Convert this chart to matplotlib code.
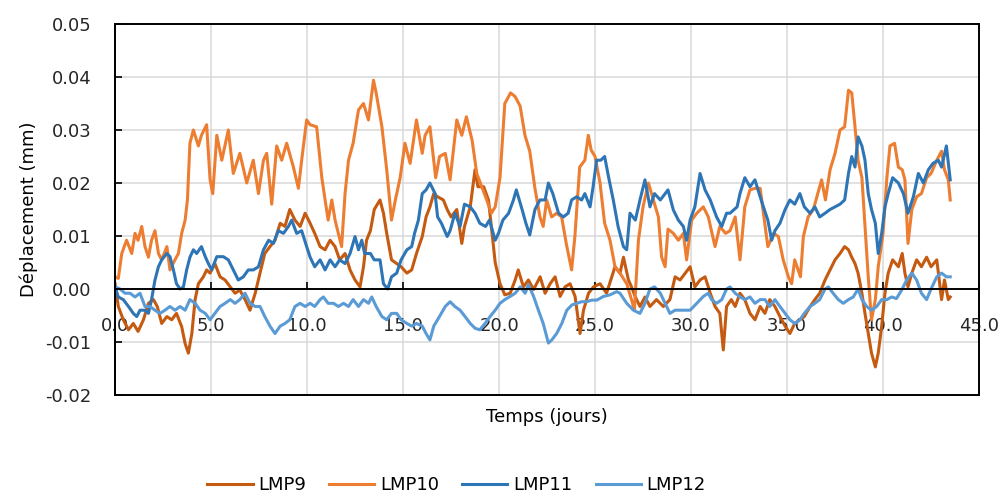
import matplotlib
matplotlib.use("Agg")
import matplotlib.pyplot as plt
from matplotlib.patches import Rectangle

# =====================================================
# Data: displacement (mm) vs time (days)
# =====================================================

t9 = [0.0, 0.17, 0.43, 0.7, 0.95, 1.2, 1.48, 1.74, 2.0, 2.2, 2.43, 2.7, 2.95, 3.2, 3.47, 3.65, 3.82, 4.0,
      4.17, 4.34, 4.6, 4.77, 4.95, 5.2, 5.47, 5.73, 6.0, 6.25, 6.5, 6.77, 7.03, 7.3, 7.55, 7.8, 8.07, 8.33,
      8.6, 8.85, 9.1, 9.37, 9.64, 9.9, 10.16, 10.4, 10.68, 10.94, 11.2, 11.46, 11.7, 11.98, 12.24, 12.5,
      12.76, 12.94, 13.1, 13.3, 13.5, 13.8, 13.98, 14.15, 14.4, 14.67, 14.9, 15.2, 15.45, 15.7, 16.0, 16.2,
      16.4, 16.6, 16.8, 17.1, 17.3, 17.5, 17.8, 18.06, 18.2, 18.5, 18.75, 18.9, 19.2, 19.45, 19.6, 19.8,
      20.05, 20.3, 20.58, 20.84, 21.0, 21.27, 21.53, 21.8, 22.14, 22.4, 22.66, 22.92, 23.18, 23.44, 23.7,
      23.96, 24.22, 24.4, 24.66, 24.92, 25.26, 25.6, 26.04, 26.3, 26.48, 26.74, 26.9, 27.1, 27.34, 27.6,
      27.86, 28.2, 28.56, 28.9, 29.17, 29.43, 29.7, 29.95, 30.2, 30.47, 30.73, 30.9, 31.0, 31.25, 31.5,
      31.68, 31.85, 32.1, 32.3, 32.55, 32.8, 33.07, 33.33, 33.6, 33.85, 34.1, 34.37, 34.63, 34.9, 35.15,
      35.4, 35.67, 35.9, 36.2, 36.45, 36.7, 36.98, 37.24, 37.5, 37.76, 38.0, 38.2, 38.37, 38.54, 38.7,
      38.9, 39.06, 39.23, 39.4, 39.6, 39.75, 39.93, 40.1, 40.27, 40.5, 40.8, 41.0, 41.14, 41.3, 41.5,
      41.75, 42.0, 42.27, 42.5, 42.8, 43.05, 43.2, 43.4, 43.5]
lmp9 = [0.0010, -0.0033, -0.0058, -0.0077, -0.0065, -0.0080, -0.0058, -0.0027, -0.0020, -0.0033, -0.0065,
        -0.0052, -0.0058, -0.0046, -0.0071, -0.0103, -0.0121, -0.0084, -0.0020, 0.0010, 0.0023, 0.0036,
        0.0030, 0.0048, 0.0023, 0.0017, 0.0004, -0.0008, -0.0002, -0.0020, -0.0040, -0.0008, 0.0030, 0.0067,
        0.0080, 0.0092, 0.0124, 0.0118, 0.0150, 0.0130, 0.0118, 0.0143, 0.0124, 0.0105, 0.0080, 0.0074,
        0.0092, 0.0080, 0.0055, 0.0067, 0.0036, 0.0017, 0.0004, 0.0042, 0.0092, 0.0110, 0.0150, 0.0168,
        0.0143, 0.0105, 0.0055, 0.0048, 0.0042, 0.0030, 0.0036, 0.0067, 0.0099, 0.0136, 0.0155, 0.0180,
        0.0174, 0.0168, 0.0150, 0.0136, 0.0150, 0.0086, 0.0118, 0.0155, 0.0225, 0.0193, 0.0193, 0.0168,
        0.0118, 0.0050, 0.0010, -0.0011, -0.0008, 0.0017, 0.0036, 0.0004, 0.0017, -0.0001, 0.0023, -0.0008,
        0.0010, 0.0023, -0.0014, 0.0004, 0.0010, -0.0014, -0.0084, -0.0040, -0.0008, 0.0004, 0.0010,
        -0.0008, 0.0042, 0.0030, 0.0060, 0.0017, 0.0004, -0.0015, -0.0033, -0.0015, -0.0033, -0.0020,
        -0.0033, -0.0020, 0.0023, 0.0017, 0.0030, 0.0042, 0.0004, 0.0017, 0.0023, 0.0004, -0.0008, -0.0033,
        -0.0046, -0.0115, -0.0033, -0.0020, -0.0033, -0.0008, -0.0020, -0.0046, -0.0058, -0.0033, -0.0046,
        -0.0020, -0.0033, -0.0052, -0.0070, -0.0084, -0.0065, -0.0058, -0.0052, -0.0033, -0.0020, -0.0008,
        0.0017, 0.0036, 0.0055, 0.0067, 0.0080, 0.0074, 0.0060, 0.0048, 0.0030, -0.0008, -0.0046, -0.0084,
        -0.0121, -0.0147, -0.0121, -0.0070, -0.0008, 0.0030, 0.0055, 0.0042, 0.0067, 0.0030, 0.0004, 0.0030,
        0.0055, 0.0042, 0.0060, 0.0042, 0.0055, -0.0020, 0.0017, -0.0020, -0.0015]

t10 = [0.0, 0.17, 0.35, 0.6, 0.87, 1.04, 1.2, 1.39, 1.56, 1.74, 1.9, 2.08, 2.26, 2.43, 2.7, 2.86, 3.12, 3.3,
       3.47, 3.65, 3.77, 3.9, 4.08, 4.34, 4.5, 4.77, 4.95, 5.09, 5.3, 5.56, 5.9, 6.16, 6.5, 6.86, 7.2, 7.47,
       7.73, 7.9, 8.16, 8.42, 8.68, 8.94, 9.29, 9.55, 9.72, 9.98, 10.16, 10.5, 10.77, 10.94, 11.1, 11.29,
       11.46, 11.63, 11.8, 11.98, 12.16, 12.4, 12.68, 12.94, 13.2, 13.46, 13.6, 13.9, 14.15, 14.4, 14.6,
       14.85, 15.1, 15.37, 15.7, 16.0, 16.15, 16.4, 16.7, 16.9, 17.2, 17.45, 17.8, 18.06, 18.3, 18.6, 18.84,
       19.1, 19.36, 19.6, 19.8, 20.05, 20.3, 20.6, 20.84, 21.1, 21.35, 21.6, 21.87, 22.13, 22.3, 22.48,
       22.74, 23.0, 23.26, 23.5, 23.78, 23.95, 24.2, 24.47, 24.65, 24.8, 25.0, 25.26, 25.5, 25.78, 26.04,
       26.3, 26.65, 26.9, 27.05, 27.26, 27.5, 27.78, 28.04, 28.3, 28.47, 28.65, 28.8, 29.08, 29.34, 29.6,
       29.77, 30.03, 30.3, 30.64, 30.9, 31.25, 31.5, 31.8, 32.03, 32.3, 32.55, 32.8, 33.07, 33.33, 33.6,
       33.77, 34.0, 34.3, 34.55, 34.8, 35.07, 35.24, 35.4, 35.7, 35.85, 36.1, 36.37, 36.6, 36.8, 37.0,
       37.24, 37.5, 37.76, 38.0, 38.2, 38.37, 38.54, 38.7, 38.9, 39.06, 39.23, 39.4, 39.6, 39.75, 40.0,
       40.2, 40.36, 40.6, 40.8, 41.0, 41.14, 41.3, 41.5, 41.75, 42.0, 42.27, 42.5, 42.8, 43.05, 43.2, 43.4,
       43.5]
lmp10 = [0.0023, 0.0020, 0.0067, 0.0092, 0.0067, 0.0105, 0.0092, 0.0118, 0.0080, 0.0060, 0.0092, 0.0110,
         0.0067, 0.0055, 0.0080, 0.0036, 0.0055, 0.0067, 0.0105, 0.0130, 0.0168, 0.0275, 0.0300, 0.0270,
         0.0290, 0.0310, 0.0206, 0.0180, 0.0290, 0.0243, 0.0300, 0.0218, 0.0256, 0.0200, 0.0243, 0.0180,
         0.0243, 0.0256, 0.0160, 0.0270, 0.0243, 0.0275, 0.0230, 0.0190, 0.0243, 0.0319, 0.0310, 0.0306,
         0.0210, 0.0168, 0.0130, 0.0168, 0.0130, 0.0105, 0.0080, 0.0180, 0.0243, 0.0275, 0.0338, 0.0350,
         0.0319, 0.0394, 0.0370, 0.0306, 0.0225, 0.0130, 0.0168, 0.0210, 0.0275, 0.0237, 0.0319, 0.0256,
         0.0290, 0.0306, 0.0210, 0.0250, 0.0256, 0.0206, 0.0319, 0.0290, 0.0325, 0.0280, 0.0218, 0.0193,
         0.0168, 0.0143, 0.0155, 0.0210, 0.0350, 0.0370, 0.0363, 0.0345, 0.0290, 0.0260, 0.0190, 0.0136,
         0.0118, 0.0168, 0.0136, 0.0143, 0.0136, 0.0086, 0.0036, 0.0099, 0.0230, 0.0243, 0.0290, 0.0262,
         0.0250, 0.0200, 0.0124, 0.0092, 0.0042, 0.0030, 0.0010, -0.0020, -0.0040, 0.0092, 0.0155, 0.0200,
         0.0168, 0.0136, 0.0060, 0.0042, 0.0113, 0.0105, 0.0092, 0.0105, 0.0055, 0.0130, 0.0143, 0.0155,
         0.0136, 0.0080, 0.0118, 0.0105, 0.0110, 0.0136, 0.0055, 0.0155, 0.0187, 0.0190, 0.0190, 0.0143,
         0.0080, 0.0105, 0.0099, 0.0055, 0.0023, 0.0010, 0.0055, 0.0023, 0.0099, 0.0136, 0.0150, 0.0180,
         0.0206, 0.0168, 0.0225, 0.0256, 0.0300, 0.0306, 0.0375, 0.0370, 0.0306, 0.0243, 0.0210, 0.0118,
         0.0023, -0.0058, -0.0020, 0.0042, 0.0105, 0.0210, 0.0270, 0.0275, 0.0230, 0.0225, 0.0206, 0.0086,
         0.0150, 0.0174, 0.0180, 0.0210, 0.0218, 0.0243, 0.0260, 0.0225, 0.0206, 0.0168]

t11 = [0.0, 0.17, 0.43, 0.7, 0.95, 1.13, 1.3, 1.56, 1.74, 1.9, 2.08, 2.26, 2.43, 2.7, 2.86, 3.04, 3.2, 3.39,
       3.56, 3.73, 3.9, 4.08, 4.25, 4.5, 4.7, 4.86, 5.03, 5.3, 5.64, 5.9, 6.16, 6.42, 6.68, 6.94, 7.2, 7.47,
       7.73, 8.0, 8.25, 8.5, 8.77, 9.03, 9.2, 9.46, 9.72, 9.98, 10.16, 10.4, 10.68, 10.94, 11.2, 11.46,
       11.7, 11.98, 12.24, 12.5, 12.68, 12.85, 13.0, 13.3, 13.5, 13.8, 13.98, 14.2, 14.4, 14.67, 14.9, 15.2,
       15.45, 15.6, 15.8, 16.0, 16.2, 16.4, 16.67, 16.8, 17.0, 17.3, 17.45, 17.7, 17.97, 18.2, 18.5, 18.75,
       19.0, 19.3, 19.5, 19.8, 19.97, 20.2, 20.5, 20.75, 20.9, 21.2, 21.4, 21.6, 21.87, 22.13, 22.4, 22.57,
       22.8, 23.1, 23.35, 23.6, 23.78, 24.04, 24.3, 24.47, 24.74, 24.9, 25.08, 25.3, 25.5, 25.7, 25.95,
       26.2, 26.48, 26.65, 26.82, 27.1, 27.34, 27.6, 27.86, 28.1, 28.4, 28.65, 28.8, 29.08, 29.34, 29.6,
       29.77, 29.95, 30.2, 30.47, 30.73, 31.0, 31.33, 31.6, 31.85, 32.03, 32.4, 32.55, 32.8, 33.07, 33.33,
       33.6, 33.77, 34.0, 34.2, 34.37, 34.63, 34.9, 35.15, 35.4, 35.67, 35.9, 36.2, 36.45, 36.7, 36.98,
       37.24, 37.5, 37.76, 38.0, 38.2, 38.37, 38.54, 38.7, 38.9, 39.06, 39.23, 39.4, 39.6, 39.75, 39.93,
       40.1, 40.27, 40.5, 40.8, 41.06, 41.3, 41.58, 41.84, 42.1, 42.36, 42.6, 42.88, 43.05, 43.3, 43.5]
lmp11 = [0.0004, -0.0015, -0.0020, -0.0033, -0.0046, -0.0052, -0.0040, -0.0040, -0.0046, -0.0020, 0.0017,
         0.0042, 0.0055, 0.0067, 0.0061, 0.0036, 0.0010, 0.0000, 0.0004, 0.0036, 0.0060, 0.0074, 0.0067,
         0.0080, 0.0061, 0.0048, 0.0036, 0.0061, 0.0061, 0.0055, 0.0036, 0.0017, 0.0023, 0.0036, 0.0036,
         0.0042, 0.0074, 0.0092, 0.0086, 0.0110, 0.0105, 0.0118, 0.0130, 0.0105, 0.0110, 0.0080, 0.0060,
         0.0042, 0.0055, 0.0036, 0.0055, 0.0042, 0.0055, 0.0048, 0.0067, 0.0099, 0.0074, 0.0092, 0.0067,
         0.0067, 0.0055, 0.0055, 0.0010, 0.0000, 0.0023, 0.0030, 0.0055, 0.0074, 0.0080, 0.0105, 0.0130,
         0.0180, 0.0187, 0.0200, 0.0180, 0.0136, 0.0124, 0.0099, 0.0110, 0.0143, 0.0118, 0.0160, 0.0155,
         0.0143, 0.0124, 0.0118, 0.0130, 0.0092, 0.0105, 0.0130, 0.0143, 0.0168, 0.0187, 0.0150, 0.0124,
         0.0102, 0.0150, 0.0168, 0.0168, 0.0200, 0.0180, 0.0143, 0.0136, 0.0143, 0.0168, 0.0174, 0.0168,
         0.0180, 0.0155, 0.0193, 0.0243, 0.0243, 0.0250, 0.0212, 0.0168, 0.0118, 0.0080, 0.0074, 0.0143,
         0.0130, 0.0168, 0.0206, 0.0155, 0.0180, 0.0168, 0.0180, 0.0187, 0.0149, 0.0130, 0.0118, 0.0092,
         0.0130, 0.0155, 0.0218, 0.0187, 0.0168, 0.0136, 0.0118, 0.0143, 0.0143, 0.0155, 0.0180, 0.0210,
         0.0193, 0.0206, 0.0174, 0.0155, 0.0130, 0.0092, 0.0110, 0.0124, 0.0150, 0.0168, 0.0160, 0.0180,
         0.0155, 0.0143, 0.0155, 0.0136, 0.0143, 0.0150, 0.0155, 0.0160, 0.0168, 0.0218, 0.0250, 0.0230,
         0.0287, 0.0270, 0.0243, 0.0180, 0.0150, 0.0124, 0.0067, 0.0105, 0.0155, 0.0180, 0.0210, 0.0200,
         0.0180, 0.0143, 0.0174, 0.0218, 0.0200, 0.0225, 0.0237, 0.0243, 0.0230, 0.0270, 0.0206]

t12 = [0.0, 0.26, 0.52, 0.78, 1.04, 1.3, 1.56, 1.82, 2.08, 2.34, 2.6, 2.86, 3.12, 3.39, 3.65, 3.9, 4.17,
       4.43, 4.7, 4.95, 5.2, 5.47, 5.73, 6.0, 6.25, 6.5, 6.77, 7.03, 7.3, 7.55, 7.8, 8.07, 8.33, 8.6, 8.85,
       9.1, 9.37, 9.64, 9.9, 10.16, 10.4, 10.68, 10.85, 11.1, 11.38, 11.63, 11.9, 12.16, 12.4, 12.68, 12.94,
       13.2, 13.37, 13.6, 13.9, 14.15, 14.4, 14.67, 14.9, 15.2, 15.45, 15.7, 16.0, 16.2, 16.4, 16.6, 16.8,
       17.2, 17.45, 17.7, 17.97, 18.23, 18.5, 18.75, 19.0, 19.27, 19.53, 19.8, 20.05, 20.3, 20.58, 20.84,
       21.1, 21.36, 21.53, 21.8, 22.05, 22.3, 22.57, 22.75, 23.0, 23.27, 23.53, 23.8, 24.05, 24.3, 24.57,
       24.83, 25.09, 25.44, 25.78, 26.13, 26.3, 26.65, 27.0, 27.34, 27.6, 27.86, 28.1, 28.4, 28.65, 28.9,
       29.17, 29.5, 29.95, 30.3, 30.64, 30.9, 31.07, 31.33, 31.6, 31.85, 32.03, 32.3, 32.55, 32.8, 33.07,
       33.33, 33.6, 33.85, 34.1, 34.37, 34.63, 34.9, 35.15, 35.4, 35.67, 35.9, 36.2, 36.45, 36.7, 36.98,
       37.15, 37.4, 37.67, 37.93, 38.2, 38.45, 38.7, 38.9, 39.15, 39.4, 39.67, 39.93, 40.2, 40.45, 40.7,
       41.0, 41.23, 41.5, 41.75, 42.0, 42.27, 42.5, 42.8, 43.05, 43.3, 43.5]
lmp12 = [0.0004, 0.0000, -0.0008, -0.0008, -0.0015, -0.0008, -0.0033, -0.0033, -0.0040, -0.0046, -0.0040,
         -0.0033, -0.0040, -0.0033, -0.0040, -0.0020, -0.0027, -0.0040, -0.0046, -0.0058, -0.0046, -0.0033,
         -0.0027, -0.0020, -0.0027, -0.0020, -0.0008, -0.0027, -0.0033, -0.0033, -0.0052, -0.0070, -0.0084,
         -0.0070, -0.0065, -0.0058, -0.0033, -0.0027, -0.0033, -0.0027, -0.0033, -0.0020, -0.0015, -0.0027,
         -0.0027, -0.0033, -0.0027, -0.0033, -0.0020, -0.0033, -0.0020, -0.0027, -0.0015, -0.0033, -0.0052,
         -0.0058, -0.0046, -0.0046, -0.0058, -0.0065, -0.0070, -0.0065, -0.0070, -0.0084, -0.0096, -0.0070,
         -0.0058, -0.0033, -0.0024, -0.0033, -0.0040, -0.0052, -0.0065, -0.0074, -0.0077, -0.0065, -0.0052,
         -0.0040, -0.0027, -0.0020, -0.0014, -0.0008, 0.0004, -0.0008, 0.0008, -0.0014, -0.0040, -0.0065,
         -0.0102, -0.0096, -0.0084, -0.0065, -0.0040, -0.0030, -0.0027, -0.0024, -0.0024, -0.0021, -0.0021,
         -0.0014, -0.0011, -0.0005, -0.0008, -0.0027, -0.0040, -0.0046, -0.0027, 0.0000, 0.0004, -0.0008,
         -0.0027, -0.0046, -0.0040, -0.0040, -0.0040, -0.0027, -0.0014, -0.0008, -0.0020, -0.0027, -0.0020,
         0.0000, 0.0004, -0.0008, -0.0015, -0.0020, -0.0015, -0.0027, -0.0020, -0.0020, -0.0033, -0.0020,
         -0.0033, -0.0046, -0.0058, -0.0065, -0.0058, -0.0046, -0.0033, -0.0027, -0.0020, 0.0000, 0.0004,
         -0.0008, -0.0020, -0.0027, -0.0020, -0.0015, 0.0000, -0.0020, -0.0033, -0.0040, -0.0033, -0.0020,
         -0.0020, -0.0015, -0.0018, 0.0000, 0.0017, 0.0030, 0.0017, -0.0008, -0.0020, 0.0000, 0.0023, 0.0030,
         0.0023, 0.0023]

series = [
    ("LMP9", t9, lmp9, "#C55A11"),
    ("LMP10", t10, lmp10, "#ED7D31"),
    ("LMP11", t11, lmp11, "#2E75B6"),
    ("LMP12", t12, lmp12, "#5B9BD5"),
]

x_ticks = [0, 5, 10, 15, 20, 25, 30, 35, 40, 45]
y_ticks = [-0.02, -0.01, 0.0, 0.01, 0.02, 0.03, 0.04, 0.05]

# =====================================================
# Plot
# =====================================================

plt.rcParams['font.family'] = ['DejaVu Sans']
fs = 13

fig = plt.figure(figsize=(10.03, 4.94), dpi=100)
ax = fig.add_axes([0.1147, 0.2004, 0.8614, 0.751])

for name, t, y, c in series:
    ax.plot(t, y, color=c, lw=2.2, label=name, solid_joinstyle='round')

ax.set_xlim(0, 45)
ax.set_ylim(-0.02, 0.05)
ax.set_xticks(x_ticks)
ax.set_yticks(y_ticks)
ax.set_xticklabels([f"{v:.1f}" for v in x_ticks])
ax.set_yticklabels([f"{v:.2f}" for v in y_ticks])
ax.grid(True, color="#D9D9D9", lw=1.1)
ax.set_axisbelow(True)

# horizontal axis crosses at zero, plot area keeps a full black border
ax.spines['bottom'].set_position(('data', 0))
for s in ax.spines.values():
    s.set_color('black')
    s.set_linewidth(1.4)
ax.spines['top'].set_visible(False)
ax.spines['right'].set_visible(False)
ax.add_patch(Rectangle((0, 0), 1, 1, transform=ax.transAxes, fill=False,
                       edgecolor='black', lw=1.4, clip_on=False, zorder=5))

ax.tick_params(axis='x', direction='in', length=5, width=1.2, pad=20, labelsize=fs, colors='black')
ax.tick_params(axis='y', direction='in', length=5, width=1.2, pad=17, labelsize=fs)
for lbl in ax.get_xticklabels() + ax.get_yticklabels():
    lbl.set_color('#262626')

ax.set_xlabel("Temps (jours)", fontsize=fs)
ax.xaxis.set_label_coords(0.5, -0.035)
ax.set_ylabel("Déplacement (mm)", fontsize=fs)
ax.yaxis.set_label_coords(-0.089, 0.5)

fig.legend(loc='center', bbox_to_anchor=(0.455, 0.018), ncol=4, frameon=False,
           fontsize=fs, handlelength=2.5, handletextpad=0.3, columnspacing=1.3)

plt.savefig("out.png", dpi=100)
